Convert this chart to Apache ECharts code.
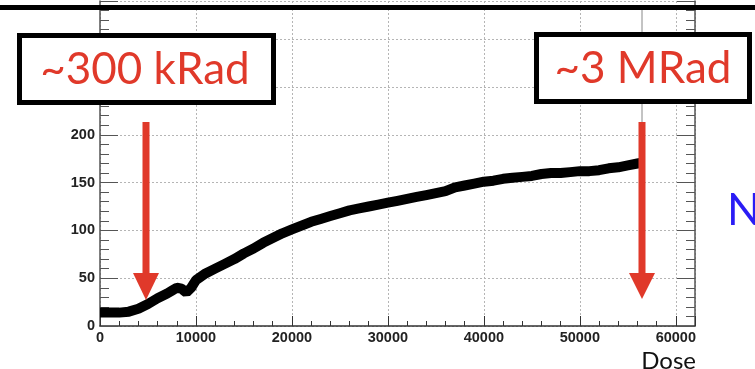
<!DOCTYPE html>
<html>
<head>
<meta charset="utf-8">
<script src="https://cdn.jsdelivr.net/npm/echarts@6/dist/echarts.min.js"></script>
<style>
  html, body { margin: 0; padding: 0; background: #fff; }
  #chart { width: 755px; height: 369px; }
</style>
</head>
<body>
<div id="chart"></div>
<script>
// dose values (x) and response (y)
const dose = [0, 1000, 2000, 3000, 4000, 5000, 6000, 7000, 7500, 8000, 8500, 9000, 9500,
  10000, 11000, 12000, 13000, 14000, 15000, 16000, 17000, 18000, 19000, 20000,
  21000, 22000, 23000, 24000, 25000, 26000, 27000, 28000, 29000, 30000,
  31000, 32000, 33000, 34000, 35000, 36000, 37000, 38000, 39000, 40000,
  41000, 42000, 43000, 44000, 45000, 46000, 47000, 48000, 49000, 50000,
  51000, 52000, 53000, 54000, 55000, 56000, 56500];
const response = [14, 14, 14, 15, 18, 23, 29, 34, 37, 40, 39, 35, 40,
  48, 55, 60, 65, 70, 76, 81, 87, 92, 97, 101,
  105, 109, 112, 115, 118, 121, 123, 125, 127, 129,
  131, 133, 135, 137, 139, 141, 145, 147, 149, 151,
  152, 154, 155, 156, 157, 159, 160, 160, 161, 162,
  162, 163, 165, 166, 168, 170, 171];

const xTicks = { min: 0, max: 62000, step: 10000 };
const yTicks = { min: 0, max: 340, step: 50 };
const labels = { left: "~300 kRad", right: "~3 MRad", xName: "Dose", cut: "N" };

const red = "#e0392a";
const chart = echarts.init(document.getElementById("chart"));

const axisText = { color: "#222", fontSize: 14.5, fontWeight: "bold", fontFamily: "Liberation Sans" };
const gridLine = { show: true, lineStyle: { color: "#b5b5b5", type: [2, 2], width: 1 } };

const option = {
  animation: false,
  grid: { left: 100, top: 1, width: 595, height: 325 },
  xAxis: {
    type: "value",
    min: xTicks.min,
    max: xTicks.max,
    interval: xTicks.step,
    axisLine: { lineStyle: { color: "#333", width: 1.5 } },
    axisTick: { inside: true, length: 10, lineStyle: { color: "#333" } },
    minorTick: { show: true, splitNumber: 5, length: 5, lineStyle: { color: "#333" } },
    axisLabel: Object.assign({ margin: 4, showMaxLabel: false, formatter: v => String(v) }, axisText),
    splitLine: gridLine,
  },
  yAxis: [
    {
      type: "value",
      min: yTicks.min,
      max: yTicks.max,
      interval: yTicks.step,
      axisLine: { show: true, lineStyle: { color: "#555", width: 1.5 } },
      axisTick: { show: true, inside: true, length: 18, lineStyle: { color: "#555" } },
      minorTick: { show: true, splitNumber: 5, length: 9, lineStyle: { color: "#555" } },
      axisLabel: Object.assign({ margin: 5, showMaxLabel: false, formatter: v => String(v) }, axisText),
      splitLine: gridLine,
    },
    {
      type: "value",
      position: "right",
      min: yTicks.min,
      max: yTicks.max,
      interval: yTicks.step,
      axisLine: { show: true, lineStyle: { color: "#555", width: 1.5 } },
      axisTick: { show: true, inside: true, length: 18, lineStyle: { color: "#555" } },
      minorTick: { show: true, splitNumber: 5, length: 9, lineStyle: { color: "#555" } },
      axisLabel: { show: false },
      splitLine: { show: false },
    },
  ],
  series: [
    {
      type: "line",
      data: dose.map((d, i) => [d, response[i]]),
      showSymbol: false,
      lineStyle: { color: "#000", width: 10, join: "bevel", cap: "butt" },
      z: 3,
    },
  ],
  graphic: [
    // slide top rule
    { type: "rect", shape: { x: 0, y: 5, width: 755, height: 5 }, style: { fill: "#000" }, z: 50 },
    // thin grey line above right arrow
    { type: "line", shape: { x1: 642, y1: 10, x2: 642, y2: 122 }, style: { stroke: "#888", lineWidth: 1 }, z: 50 },
    // label boxes
    { type: "rect", shape: { x: 19.5, y: 35.5, width: 254, height: 67 }, style: { fill: "#fff", stroke: "#000", lineWidth: 5 }, z: 60 },
    { type: "text", x: 145, y: 70, style: { text: labels.left, fill: red, font: "44px Lato", align: "center", verticalAlign: "middle" }, z: 61 },
    { type: "rect", shape: { x: 536.5, y: 34.5, width: 213, height: 67 }, style: { fill: "#fff", stroke: "#000", lineWidth: 5 }, z: 60 },
    { type: "text", x: 643, y: 69, style: { text: labels.right, fill: red, font: "44px Lato", align: "center", verticalAlign: "middle" }, z: 61 },
    // arrows
    { type: "rect", shape: { x: 142.5, y: 122, width: 7, height: 154 }, style: { fill: red }, z: 55 },
    { type: "polygon", shape: { points: [[133, 273], [159, 273], [146, 300]] }, style: { fill: red }, z: 55 },
    { type: "rect", shape: { x: 638.5, y: 122, width: 7, height: 154 }, style: { fill: red }, z: 55 },
    { type: "polygon", shape: { points: [[629, 273], [655, 273], [642, 299]] }, style: { fill: red }, z: 55 },
    // axis name and cut-off word
    { type: "text", x: 696, y: 349, style: { text: labels.xName, fill: "#111", font: "24px Lato", align: "right", verticalAlign: "top" }, z: 50 },
    { type: "text", x: 727, y: 211, style: { text: labels.cut, fill: "#2a1cf5", font: "44px Lato", align: "left", verticalAlign: "middle" }, z: 50 },
  ],
};
chart.setOption(option);
</script>
</body>
</html>
